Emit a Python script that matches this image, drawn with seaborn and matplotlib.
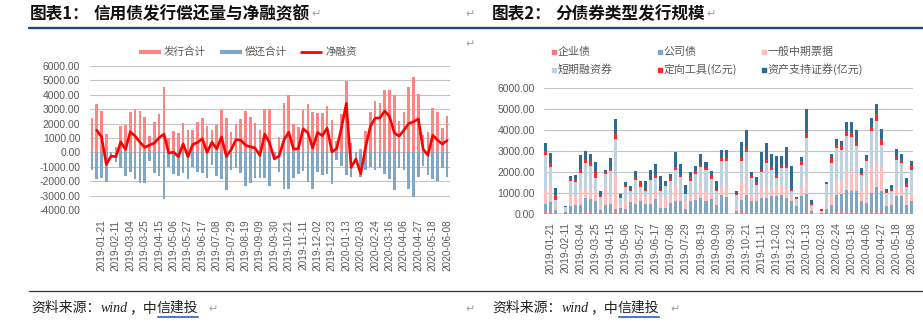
import numpy as np
import pandas as pd
import matplotlib
matplotlib.use("Agg")
import matplotlib.pyplot as plt
import seaborn as sns
from matplotlib.lines import Line2D

# ---------------- data ----------------
left_ticklabels = ["2019-01-21", "2019-02-11", "2019-03-04", "2019-03-25", "2019-04-15",
                   "2019-05-06", "2019-05-27", "2019-06-17", "2019-07-08", "2019-07-29",
                   "2019-08-19", "2019-09-09", "2019-09-30", "2019-10-21", "2019-11-11",
                   "2019-12-02", "2019-12-23", "2020-01-13", "2020-02-03", "2020-02-24",
                   "2020-03-16", "2020-04-06", "2020-04-27", "2020-05-18", "2020-06-08"]
right_ticklabels = list(left_ticklabels)

# chart 1 (weekly, 2019-01-07 .. 2020-06-08)
issue_total = [2380, 3390, 2860, 1250, 0, 370, 1820, 1870, 2790, 2980,
               2860, 2470, 1110, 2080, 2660, 4530, 970, 1520, 1340, 2030,
               1570, 1570, 2080, 2360, 1800, 1590, 1890, 2930, 2360, 1390,
               1990, 2290, 2860, 2490, 2060, 1550, 3030, 3030, 0, 1090,
               3420, 3970, 1990, 1780, 2930, 3390, 2840, 2770, 2750, 3190,
               2260, 810, 2700, 4970, 670, 0, 250, 1520, 2840, 3580,
               3460, 4360, 4360, 3970, 2190, 2790, 4570, 5220, 4060, 1200,
               1390, 3070, 2840, 1690, 2540]
repay_total = [-1250, -1850, -1780, -2080, -250, -670, -1090, -1660, -1360, -1850,
               -2150, -2120, -600, -1430, -1640, -3260, -1020, -1500, -1640, -1430,
               -1870, -1020, -1390, -1410, -1800, -880, -1640, -1850, -2630, -1200,
               -1110, -1430, -2360, -2100, -1760, -1760, -1760, -2360, -450, -1340,
               -2560, -2560, -1760, -1520, -1290, -2030, -2540, -1390, -1590, -1500,
               -2220, -550, -970, -1570, -1710, -460, -1730, -1200, -1040, -1200,
               -1060, -1480, -1870, -2610, -1060, -1250, -2560, -3100, -1730, -970,
               -1590, -1870, -1990, -1110, -1710]
net_financing = [np.nan, 1540, 1080, -830, -250, -300, 730, 210, 1430, 1130,
                 710, 350, 510, 650, 1020, 1270, -50, 20, -300, 600,
                 -300, 550, 690, 950, 0, 710, 250, 1080, -270, 190,
                 880, 860, 500, 390, 300, -210, 1270, 670, -450, -250,
                 860, 1410, 230, 260, 1640, 1360, 300, 1380, 1160, 1690,
                 40, 260, 1730, 3400, -1040, -460, -1480, 320, 1800, 2380,
                 2400, 2880, 2490, 1360, 1130, 1540, 2010, 2120, 2330, 230,
                 -200, 1200, 850, 580, 830]

# chart 2 (weekly, 2019-01-14 .. 2020-06-08)
enterprise = [80, 100, 60, 0, 20, 50, 50, 60, 80, 80, 60, 60, 60, 60, 150, 40, 30, 30, 40, 40,
              40, 40, 50, 40, 30, 40, 60, 50, 30, 50, 60, 70, 60, 50, 40, 70, 70, 0, 30, 80,
              100, 50, 40, 60, 70, 70, 70, 70, 60, 50, 40, 60, 80, 30, 0, 20, 30, 60, 80, 80,
              100, 100, 100, 50, 60, 100, 120, 100, 30, 40, 70, 70, 40, 50]
corporate = [400, 470, 150, 0, 60, 320, 360, 350, 680, 630, 540, 150, 380, 420, 100, 230, 210, 540, 440, 560,
             440, 440, 680, 250, 260, 480, 540, 550, 190, 550, 620, 690, 570, 680, 400, 820, 740, 0, 120, 600,
             820, 580, 590, 700, 690, 770, 770, 820, 700, 550, 330, 780, 870, 120, 0, 50, 200, 350, 840, 870,
             1060, 1010, 1010, 550, 460, 900, 1150, 980, 340, 400, 770, 770, 400, 550]
mtn = [720, 830, 150, 0, 50, 520, 430, 790, 440, 490, 510, 310, 830, 440, 1600, 180, 440, 200, 360, 450,
       320, 360, 350, 510, 470, 320, 770, 320, 350, 320, 270, 480, 450, 270, 190, 350, 510, 0, 150, 880,
       640, 290, 290, 440, 640, 320, 480, 480, 480, 200, 160, 430, 760, 200, 0, 30, 180, 430, 670, 610,
       1000, 920, 840, 480, 880, 1190, 1270, 1140, 150, 160, 430, 430, 480, 400]
cp = [1600, 820, 320, 0, 200, 700, 660, 750, 1230, 1100, 600, 300, 630, 1140, 1700, 300, 620, 300, 790, 220,
      280, 780, 630, 280, 590, 750, 710, 840, 400, 670, 950, 980, 1030, 670, 450, 1270, 1220, 0, 600, 950,
      1380, 790, 450, 800, 1030, 950, 390, 820, 950, 280, 190, 1080, 1880, 100, 0, 60, 1030, 1590, 1550, 1500,
      1540, 1620, 1300, 790, 1110, 1750, 1870, 1080, 480, 510, 1290, 1160, 350, 1110]
ppn = [180, 210, 240, 0, 10, 60, 150, 210, 200, 200, 290, 60, 100, 100, 250, 80, 50, 50, 80, 250,
       80, 60, 130, 60, 40, 110, 160, 110, 40, 120, 130, 130, 80, 120, 80, 130, 130, 0, 50, 130,
       210, 80, 110, 110, 140, 110, 160, 110, 80, 130, 20, 190, 270, 30, 0, 10, 30, 210, 160, 200,
       240, 210, 240, 80, 110, 190, 360, 240, 60, 90, 160, 110, 160, 160]
abs_ = [400, 460, 330, 0, 30, 170, 220, 630, 350, 360, 470, 230, 80, 500, 730, 140, 170, 220, 320, 50,
        410, 400, 520, 660, 200, 190, 690, 490, 380, 280, 260, 510, 300, 270, 390, 390, 360, 0, 140, 780,
        820, 200, 300, 820, 820, 620, 900, 450, 920, 1050, 70, 160, 1110, 190, 0, 80, 50, 200, 280, 200,
        420, 500, 480, 240, 170, 440, 460, 520, 140, 190, 350, 300, 260, 270]

series_names = ["企业债", "公司债", "一般中期票据", "短期融资券", "定向工具(亿元)", "资产支持证券(亿元)"]
series_vals = [enterprise, corporate, mtn, cp, ppn, abs_]
series_colors = ["#F57A80", "#7FA6C4", "#FFBFBF", "#BED2E2", "#FF2B2B", "#2E6C96"]

# ---------------- style ----------------
sns.set_theme(style="white")
CJK = ["Noto Sans CJK SC", "DejaVu Sans"]
plt.rcParams["font.family"] = ["Liberation Sans", "DejaVu Sans"]
plt.rcParams["axes.unicode_minus"] = False

W, H = 923, 328
fig = plt.figure(figsize=(W / 100, H / 100), dpi=100)
fig.patch.set_facecolor("white")


def fx(px):
    return px / W


def fy(py):
    return 1 - py / H


TXT = "#595959"
GRID = "#C4C4C4"

# ---------------- chart 1 ----------------
ax1 = fig.add_axes([fx(90), fy(210), fx(360), 144 / H])
n1 = len(issue_total)
pos1 = np.arange(n1)
df1 = pd.DataFrame({"pos": pos1, "issue": issue_total, "repay": repay_total, "net": net_financing})
for v in range(-4000, 6001, 1000):
    ax1.axhline(v, color=GRID, lw=0.8, zorder=0)
sns.barplot(data=df1, x="pos", y="issue", native_scale=True, width=0.55, color="#FF8585",
            saturation=1, errorbar=None, ax=ax1, zorder=2, linewidth=0)
sns.barplot(data=df1, x="pos", y="repay", native_scale=True, width=0.55, color="#80A8C6",
            saturation=1, errorbar=None, ax=ax1, zorder=2, linewidth=0)
sns.lineplot(data=df1, x="pos", y="net", color="#FF0000", lw=1.9, ax=ax1, zorder=3)
ax1.set_xlim(-0.4, 74.6)
ax1.set_ylim(-4000, 6000)
ax1.set_yticks(range(-4000, 6001, 1000))
ax1.set_yticklabels([f"{v:.2f}" for v in range(-4000, 6001, 1000)], fontsize=7.5, color=TXT)
ax1.set_xticks(np.arange(2, n1, 3))
ax1.set_xticklabels(left_ticklabels, rotation=90, fontsize=7.2, color=TXT)
ax1.tick_params(axis="both", length=0)
ax1.tick_params(axis="y", pad=7)
ax1.tick_params(axis="x", pad=7)
ax1.set_xlabel("")
ax1.set_ylabel("")
for s in ax1.spines.values():
    s.set_visible(False)

# ---------------- chart 2 ----------------
ax2 = fig.add_axes([fx(543.8), fy(214), fx(369.6), 126.3 / H])
n2 = len(enterprise)
pos2 = np.arange(n2)
for v in range(0, 6001, 1000):
    ax2.axhline(v, color=GRID if v else "#D0D0D0", lw=0.8 if v else 1.2, zorder=0)
cum = np.cumsum(np.array(series_vals, dtype=float), axis=0)
for i in range(len(series_vals) - 1, -1, -1):
    d = pd.DataFrame({"pos": pos2, "val": cum[i]})
    sns.barplot(data=d, x="pos", y="val", native_scale=True, width=0.6, color=series_colors[i],
                saturation=1, errorbar=None, ax=ax2, zorder=2, linewidth=0)
ax2.set_xlim(-0.3, 73.3)
ax2.set_ylim(0, 6000)
ax2.set_yticks(range(0, 6001, 1000))
ax2.set_yticklabels([f"{v:.2f}" for v in range(0, 6001, 1000)], fontsize=7.5, color=TXT)
ax2.set_xticks(np.arange(1, n2, 3))
ax2.set_xticklabels(right_ticklabels, rotation=90, fontsize=7.2, color=TXT)
ax2.tick_params(axis="both", length=0)
ax2.tick_params(axis="y", pad=6.5)
ax2.tick_params(axis="x", pad=6)
ax2.set_xlabel("")
ax2.set_ylabel("")
for s in ax2.spines.values():
    s.set_visible(False)

# ---------------- titles / rules ----------------
fig.add_artist(Line2D([fx(29), fx(923)], [fy(27.7), fy(27.7)], color="#1B4A78", lw=1.7))
fig.add_artist(Line2D([fx(29), fx(923)], [fy(291), fy(291)], color="#1B3A5C", lw=0.9))

fig.text(fx(29.5), fy(14), "图表1：", fontsize=12, weight="bold", family=CJK, va="center", color="#111111")
fig.text(fx(94), fy(14), "信用债发行偿还量与净融资额", fontsize=12, weight="bold", family=CJK,
         va="center", color="#111111")
fig.text(fx(491.5), fy(14), "图表2：", fontsize=12, weight="bold", family=CJK, va="center", color="#111111")
fig.text(fx(555), fy(14), "分债券类型发行规模", fontsize=12, weight="bold", family=CJK,
         va="center", color="#111111")

RET = "#A0A0A0"
for (x, y) in [(311, 14), (465, 14), (706, 14), (465, 44), (208, 309), (465, 309), (670, 309)]:
    fig.text(fx(x), fy(y), "↵", fontsize=8, color=RET, family=["DejaVu Sans"], va="center")

# ---------------- legends ----------------
ly = 52
for x0, col, lw, lab in [(139, "#FF8585", 3.0, "发行合计"), (220, "#80A8C6", 3.0, "偿还合计"),
                         (300, "#FF0000", 2.0, "净融资")]:
    fig.add_artist(Line2D([fx(x0), fx(x0 + 22)], [fy(ly), fy(ly)], color=col, lw=lw,
                          solid_capstyle="butt"))
    fig.text(fx(x0 + 25), fy(ly), lab, fontsize=7.6, color=TXT, family=CJK, va="center")

cols_x = [554, 660, 764]
rows_y = [52, 69.5]
for i, (name, col) in enumerate(zip(series_names, series_colors)):
    x0 = cols_x[i % 3]
    y0 = rows_y[i // 3]
    fig.add_artist(Line2D([fx(x0)], [fy(y0)], marker="s", markersize=3.2, color=col, lw=0))
    fig.text(fx(x0 + 3.5), fy(y0), name, fontsize=7.9, color=TXT, family=CJK, va="center")

# ---------------- footnotes ----------------
renderer = fig.canvas.get_renderer()
for x0 in (31, 492):
    parts = [("资料来源：", dict(family=CJK)),
             ("wind", dict(family=["Liberation Serif"], style="italic")),
             ("，中", dict(family=CJK)),
             ("信建投", dict(family=CJK))]
    x = x0
    for txt, kw in parts:
        t = fig.text(fx(x), fy(308), txt, fontsize=10, color="#222222", va="center", **kw)
        bb = t.get_window_extent(renderer)
        if txt == "信建投":
            fig.add_artist(Line2D([fx(x), fx(x + bb.width)], [fy(315.6), fy(315.6)], color="#2F5FC0", lw=0.6))
            fig.add_artist(Line2D([fx(x), fx(x + bb.width)], [fy(317.2), fy(317.2)], color="#2F5FC0", lw=0.6))
        x += bb.width + (1.5 if txt == "wind" else 0)

fig.savefig("out.png", dpi=100, facecolor="white")
